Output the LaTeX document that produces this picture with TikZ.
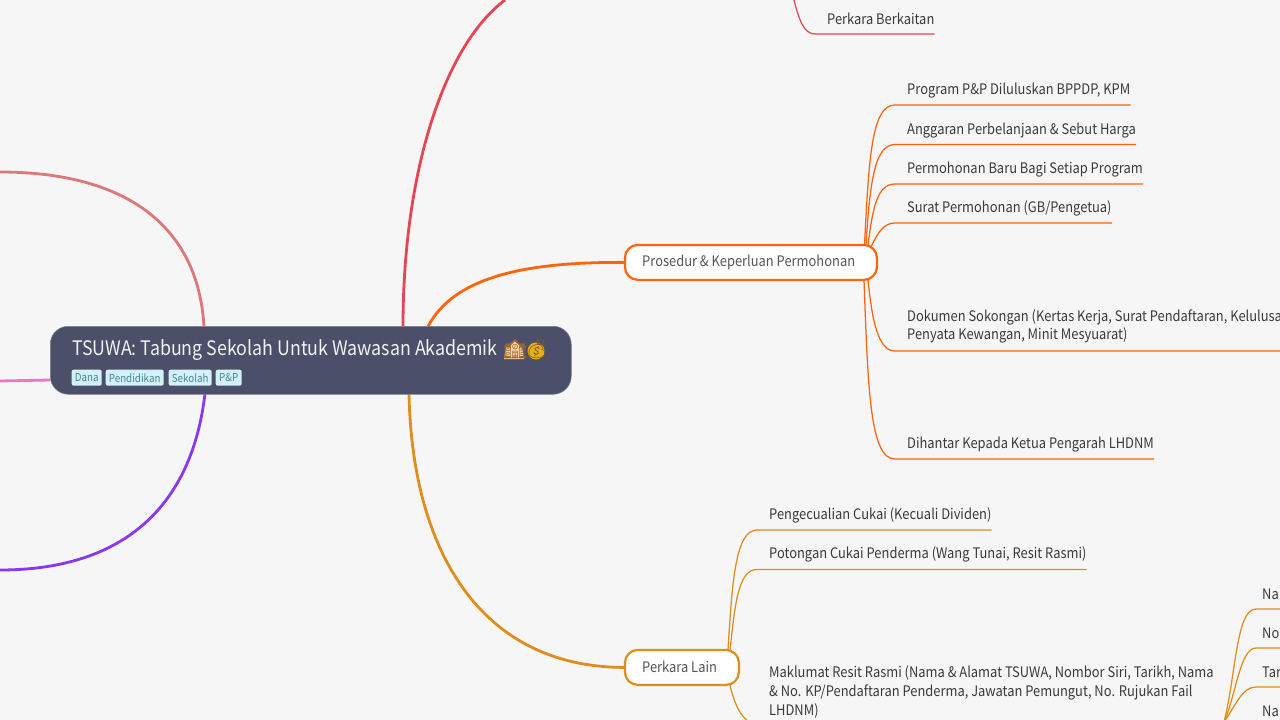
\documentclass[tikz,border=0pt]{standalone}
\usepackage{fontspec}
\setmainfont[FakeStretch=0.89]{Noto Sans CJK SC}
\newfontfamily\emojifont{Noto Emoji}
\usetikzlibrary{backgrounds}
\definecolor{bgc}{HTML}{F6F6F6}
\definecolor{rootc}{HTML}{4C4F69}
\definecolor{redc}{HTML}{E64553}
\definecolor{orangec}{HTML}{FE640B}
\definecolor{goldc}{HTML}{DF8E1D}
\definecolor{flamc}{HTML}{DD7878}
\definecolor{pinkc}{HTML}{EA76CB}
\definecolor{purplec}{HTML}{8839EF}
\definecolor{tagbg}{HTML}{D2F1F8}
\definecolor{tagfg}{HTML}{4A8799}
\definecolor{leaftx}{HTML}{3A3A3A}
\definecolor{subtx}{HTML}{555555}
\tikzset{
  x=1pt,y=-1pt,
  rootbox/.style={draw=rootc!70!white,line width=.5pt,fill=rootc,rounded corners=18pt,minimum width=521pt,minimum height=68pt,anchor=north west,inner sep=0pt},
  roottitle/.style={anchor=west,inner sep=0pt,text=white!95!black,font=\fontsize{20}{24}\selectfont},
  tagbox/.style={anchor=north west,fill=tagbg,rounded corners=2pt,inner sep=0pt,minimum height=16pt,text=tagfg,font=\fontsize{11}{13}\selectfont},
  subbox/.style={anchor=north west,fill=white,line width=2.2pt,rounded corners=13pt,minimum height=35pt,inner sep=0pt,text=subtx,font=\fontsize{14.5}{17}\selectfont},
  subtext/.style={anchor=west,inner sep=0pt,text=subtx,font=\fontsize{14.5}{17}\selectfont},
  leaf/.style={anchor=west,inner sep=0pt,text=leaftx,align=left,font=\fontsize{14.5}{18.6}\selectfont},
  emoji/.style={anchor=west,inner sep=0pt,font=\emojifont\fontsize{19}{22}\selectfont},
  mainlink/.style={line width=2.8pt},
  sublink/.style={line width=1.25pt},
}
\begin{document}
\begin{tikzpicture}
\useasboundingbox (0,0) rectangle (1280,720);
% root
\node[rootbox] (root) at (50,326) {};
\node[roottitle] (title) at (72,350) {TSUWA: Tabung Sekolah Untuk Wawasan Akademik};
\fill[orange!35!white] (506,347) -- (514,341) -- (522,347) -- (524,359) -- (504,359) -- cycle;
\fill[goldc!70!yellow] (536,351) circle (8.5pt);
\node[emoji,text=brown!80!black] (school) at (503,349.5) {🏫};
\node[emoji,text=brown!70!black] (bag) at (525,349.5) {💰};
\node[tagbox,minimum width=30pt] (t1) at (71.5,369.5) {Dana};
\node[tagbox,minimum width=58pt] (t2) at (105.5,369.5) {Pendidikan};
\node[tagbox,minimum width=43pt] (t3) at (168.5,369.5) {Sekolah};
\node[tagbox,minimum width=26pt] (t4) at (215.5,369.5) {P\&P};
% branch nodes
\node[subbox,draw=orangec,minimum width=252pt] (pros) at (623.8,243.8) {};
\node[subtext] (prost) at (642,262) {Prosedur \& Keperluan Permohonan};
\node[subbox,draw=goldc,minimum width=114pt] (lain) at (623.8,648.8) {};
\node[subtext] (laint) at (642,666.5) {Perkara Lain};
% leaves
\node[leaf] (berk) at (827,18.5) {Perkara Berkaitan};
\node[leaf] (l1) at (907,90.5) {Program P\&P Diluluskan BPPDP, KPM};
\node[leaf] (l2) at (907,130.5) {Anggaran Perbelanjaan \& Sebut Harga};
\node[leaf] (l3) at (907,169.5) {Permohonan Baru Bagi Setiap Program};
\node[leaf] (l4) at (907,208.5) {Surat Permohonan (GB/Pengetua)};
\node[leaf] (l5) at (907,326.5) {Dokumen Sokongan (Kertas Kerja, Surat Pendaftaran, Kelulusa\\Penyata Kewangan, Minit Mesyuarat)};
\node[leaf] (l6) at (907,444.5) {Dihantar Kepada Ketua Pengarah LHDNM};
\node[leaf] (g1) at (769,515.5) {Pengecualian Cukai (Kecuali Dividen)};
\node[leaf] (g2) at (769,554.5) {Potongan Cukai Penderma (Wang Tunai, Resit Rasmi)};
\node[leaf] (g3) at (769,692) {Maklumat Resit Rasmi (Nama \& Alamat TSUWA, Nombor Siri, Tarikh, Nama\\\& No. KP/Pendaftaran Penderma, Jawatan Pemungut, No. Rujukan Fail\\LHDNM)};
\node[leaf] (r1) at (1262,594.5) {Na};
\node[leaf] (r2) at (1262,633.5) {No};
\node[leaf] (r3) at (1262,672.5) {Tar};
\node[leaf] (r4) at (1262,711.5) {Na};
% free ends and attachment points
\coordinate (redend) at (505,0);
\coordinate (flamend) at (0,172);
\coordinate (pinkend) at (0,381);
\coordinate (purpend) at (0,570);
\coordinate (berktop) at (794,0);
\coordinate (gfoot) at (747,720);
\coordinate (rfoot) at (1224,722);
\coordinate (rootN1) at (204,326.5);
\coordinate (rootN2) at (403,326.5);
\coordinate (rootN3) at (428,326.5);
\coordinate (rootS1) at (205,393.5);
\coordinate (rootS2) at (409,393.5);
\begin{scope}[on background layer]
\fill[bgc] (0,0) rectangle (1280,720);
% main branches
\draw[mainlink,redc] (rootN2) .. controls (403,170) and (445,45) .. (redend);
\draw[mainlink,orangec] (rootN3) .. controls (455,275) and (530,262) .. (pros.west);
\draw[mainlink,goldc] (rootS2) .. controls (412,550) and (480,667) .. (lain.west);
\draw[mainlink,flamc] (rootN1) .. controls (198,225) and (125,172) .. (flamend);
\draw[mainlink,pinkc] (root.west |- 0,380) -- (pinkend);
\draw[mainlink,purplec] (rootS1) .. controls (192,505) and (125,570) .. (purpend);
% red leaf
\draw[sublink,redc] (berktop) .. controls (799,20) and (804,34) .. (815,34) -- (berk.east |- 0,34);
% orange leaves
\draw[sublink,orangec] (864.5,245) .. controls (869,155) and (872,105) .. (895,105) -- (l1.east |- 0,105);
\draw[sublink,orangec] (866,245) .. controls (870,180) and (875,144.5) .. (895,144.5) -- (l2.east |- 0,144.5);
\draw[sublink,orangec] (868,245) .. controls (873,205) and (878,184) .. (895,184) -- (l3.east |- 0,184);
\draw[sublink,orangec] (871,247) .. controls (878,232) and (884,223) .. (895,223) -- (l4.east |- 0,223);
\draw[sublink,orangec] (868,280) .. controls (872,320) and (878,351) .. (895,351) -- (1280,351);
\draw[sublink,orangec] (864,280) .. controls (868,390) and (870,459) .. (895,459) -- (l6.east |- 0,459);
% gold leaves
\draw[sublink,goldc] (728,650) .. controls (732,585) and (735,530) .. (757,530) -- (g1.east |- 0,530);
\draw[sublink,goldc] (730,650) .. controls (735,605) and (738,569.5) .. (757,569.5) -- (g2.east |- 0,569.5);
\draw[sublink,goldc] (730,685) .. controls (734,702) and (739,714) .. (gfoot);
% truncated sub-branch
\draw[sublink,goldc] (rfoot) .. controls (1236,675) and (1236,609) .. (1256,609) -- (1280,609);
\draw[sublink,goldc] (rfoot) .. controls (1236,695) and (1240,648) .. (1256,648) -- (1280,648);
\draw[sublink,goldc] (rfoot) .. controls (1236,705) and (1242,687) .. (1256,687) -- (1280,687);
\draw[sublink,goldc] (rfoot) .. controls (1234,724) and (1242,726) .. (1256,726) -- (1280,726);
\end{scope}
\end{tikzpicture}
\end{document}
